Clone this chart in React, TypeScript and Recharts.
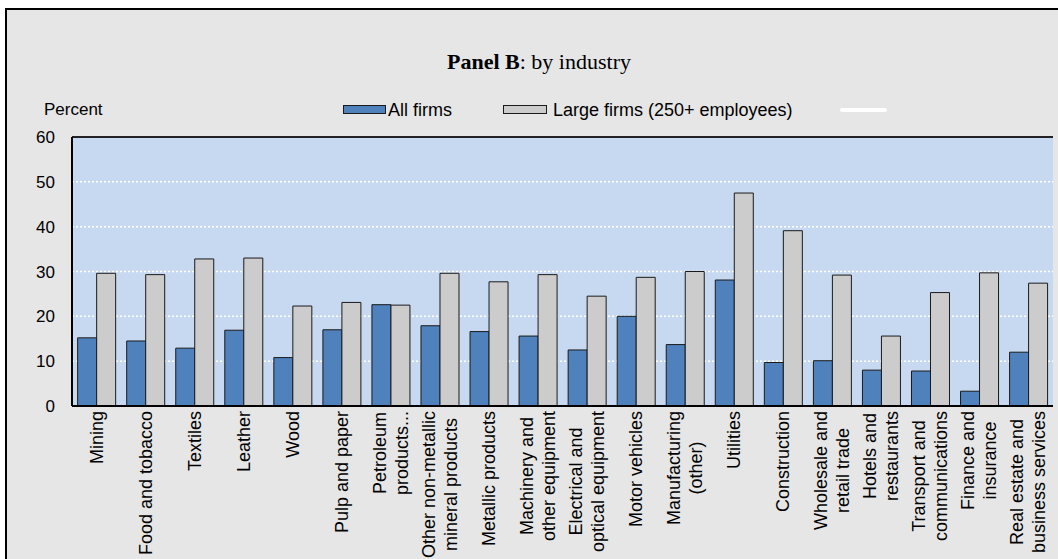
import React from "react"
import {
  BarChart,
  Bar,
  XAxis,
  YAxis,
  CartesianGrid,
  ReferenceLine,
} from "recharts"

// Industries (line breaks as in the original labels)
const categories = [
  "Mining",
  "Food and tobacco",
  "Textiles",
  "Leather",
  "Wood",
  "Pulp and paper",
  "Petroleum\nproducts...",
  "Other non-metallic\nmineral products",
  "Metallic products",
  "Machinery and\nother equipment",
  "Electrical and\noptical equipment",
  "Motor vehicles",
  "Manufacturing\n(other)",
  "Utilities",
  "Construction",
  "Wholesale and\nretail trade",
  "Hotels and\nrestaurants",
  "Transport and\ncommunications",
  "Finance and\ninsurance",
  "Real estate and\nbusiness services",
]

const allFirms = [15.2, 14.5, 12.9, 16.9, 10.8, 17.0, 22.6, 17.9, 16.6, 15.6, 12.5, 20.0, 13.7, 28.1, 9.7, 10.1, 8.0, 7.8, 3.3, 12.0]
const largeFirms = [29.6, 29.3, 32.8, 33.0, 22.3, 23.1, 22.5, 29.6, 27.7, 29.3, 24.5, 28.7, 30.0, 47.5, 39.1, 29.2, 15.6, 25.3, 29.7, 27.4]

const yTicks = [0, 10, 20, 30, 40, 50, 60]

const data = categories.map((name, i) => ({
  name,
  all: allFirms[i],
  large: largeFirms[i],
}))

const FONT = "'Liberation Sans', Arial, sans-serif"
const BLUE = "#4f81bd"
const GREY = "#cccccc"
const LABEL_SIZE = 18

let canvasCtx: CanvasRenderingContext2D | null = null
function textWidth(s: string) {
  if (!canvasCtx) canvasCtx = document.createElement("canvas").getContext("2d")
  if (!canvasCtx) return s.length * 9
  canvasCtx.font = `${LABEL_SIZE}px ${FONT}`
  return canvasCtx.measureText(s).width
}

// eslint-disable-next-line @typescript-eslint/no-explicit-any
function IndustryTick({ x, y, payload }: any) {
  const lines = String(payload.value).split("\n")
  const maxLen = Math.max(...lines.map(textWidth))
  return (
    <g transform={`translate(${x},${y + 5}) rotate(-90)`}>
      {lines.map((line, i) => (
        <text
          key={i}
          x={-maxLen / 2}
          y={(i - (lines.length - 1) / 2) * 22}
          textAnchor="middle"
          dominantBaseline="central"
          fontSize={LABEL_SIZE}
          fontFamily={FONT}
          fill="#000"
        >
          {line}
        </text>
      ))}
    </g>
  )
}

export default function App() {
  return (
    <div style={{ position: "absolute", left: 0, top: 0, width: 1058, height: 559, background: "#fff", overflow: "hidden" }}>
      {/* outer frame */}
      <div
        style={{
          position: "absolute",
          left: 5,
          top: 8,
          width: 1070,
          height: 570,
          border: "2px solid #000",
          background: "#e6e6e6",
        }}
      />

      <div style={{ position: "absolute", left: 0, top: 50, width: 1078, textAlign: "center", fontFamily: "'Liberation Serif', 'Times New Roman', serif", fontSize: 22, lineHeight: "24px", whiteSpace: "nowrap" }}>
        <b>Panel B</b>: by industry
      </div>

      <div style={{ position: "absolute", left: 44, top: 100, fontFamily: FONT, fontSize: 17, lineHeight: "20px" }}>Percent</div>

      {/* legend */}
      <div style={{ position: "absolute", left: 343, top: 105, width: 43, height: 9, background: BLUE, border: "1px solid #1a1a1a", boxSizing: "border-box" }} />
      <div style={{ position: "absolute", left: 388, top: 100, fontFamily: FONT, fontSize: 18, lineHeight: "20px", whiteSpace: "nowrap" }}>All firms</div>
      <div style={{ position: "absolute", left: 503, top: 105, width: 44, height: 9, background: GREY, border: "1px solid #1a1a1a", boxSizing: "border-box" }} />
      <div style={{ position: "absolute", left: 553, top: 100, fontFamily: FONT, fontSize: 18, lineHeight: "20px", whiteSpace: "nowrap" }}>Large firms (250+ employees)</div>
      <div style={{ position: "absolute", left: 840, top: 108, width: 47, height: 4, background: "#fff", borderRadius: 2 }} />

      <div style={{ position: "absolute", left: 0, top: 0 }}>
        <BarChart
          width={1058}
          height={559}
          data={data}
          margin={{ top: 137, right: 5, bottom: 0, left: 0 }}
          barCategoryGap="11.5%"
          barGap={0}
        >
          <CartesianGrid
            yAxisId="left"
            vertical={false}
            fill="#c6d9f0"
            fillOpacity={1}
            stroke="#ffffff"
            strokeWidth={1.5}
            strokeDasharray="2 2"
          />
          <XAxis
            dataKey="name"
            interval={0}
            height={153}
            tickLine={false}
            tickSize={0}
            tickMargin={0}
            axisLine={{ stroke: "#000", strokeWidth: 2 }}
            tick={<IndustryTick />}
          />
          <YAxis
            yAxisId="left"
            domain={[0, 60]}
            ticks={yTicks}
            interval={0}
            width={72}
            tickLine={false}
            tickSize={0}
            tickMargin={17}
            axisLine={{ stroke: "#000", strokeWidth: 2 }}
            tick={{ fontSize: 17, fill: "#000", fontFamily: FONT }}
          />
          <YAxis
            yAxisId="right"
            orientation="right"
            domain={[0, 60]}
            width={0}
            tick={false}
            tickLine={false}
            axisLine={{ stroke: "#222", strokeWidth: 2 }}
          />
          <ReferenceLine yAxisId="left" y={60} stroke="#222" strokeWidth={2} />
          <Bar yAxisId="left" dataKey="all" name="All firms" fill={BLUE} stroke="#1a1a1a" strokeWidth={1} isAnimationActive={false} />
          <Bar yAxisId="left" dataKey="large" name="Large firms (250+ employees)" fill={GREY} stroke="#1a1a1a" strokeWidth={1} isAnimationActive={false} />
        </BarChart>
      </div>
    </div>
  )
}
